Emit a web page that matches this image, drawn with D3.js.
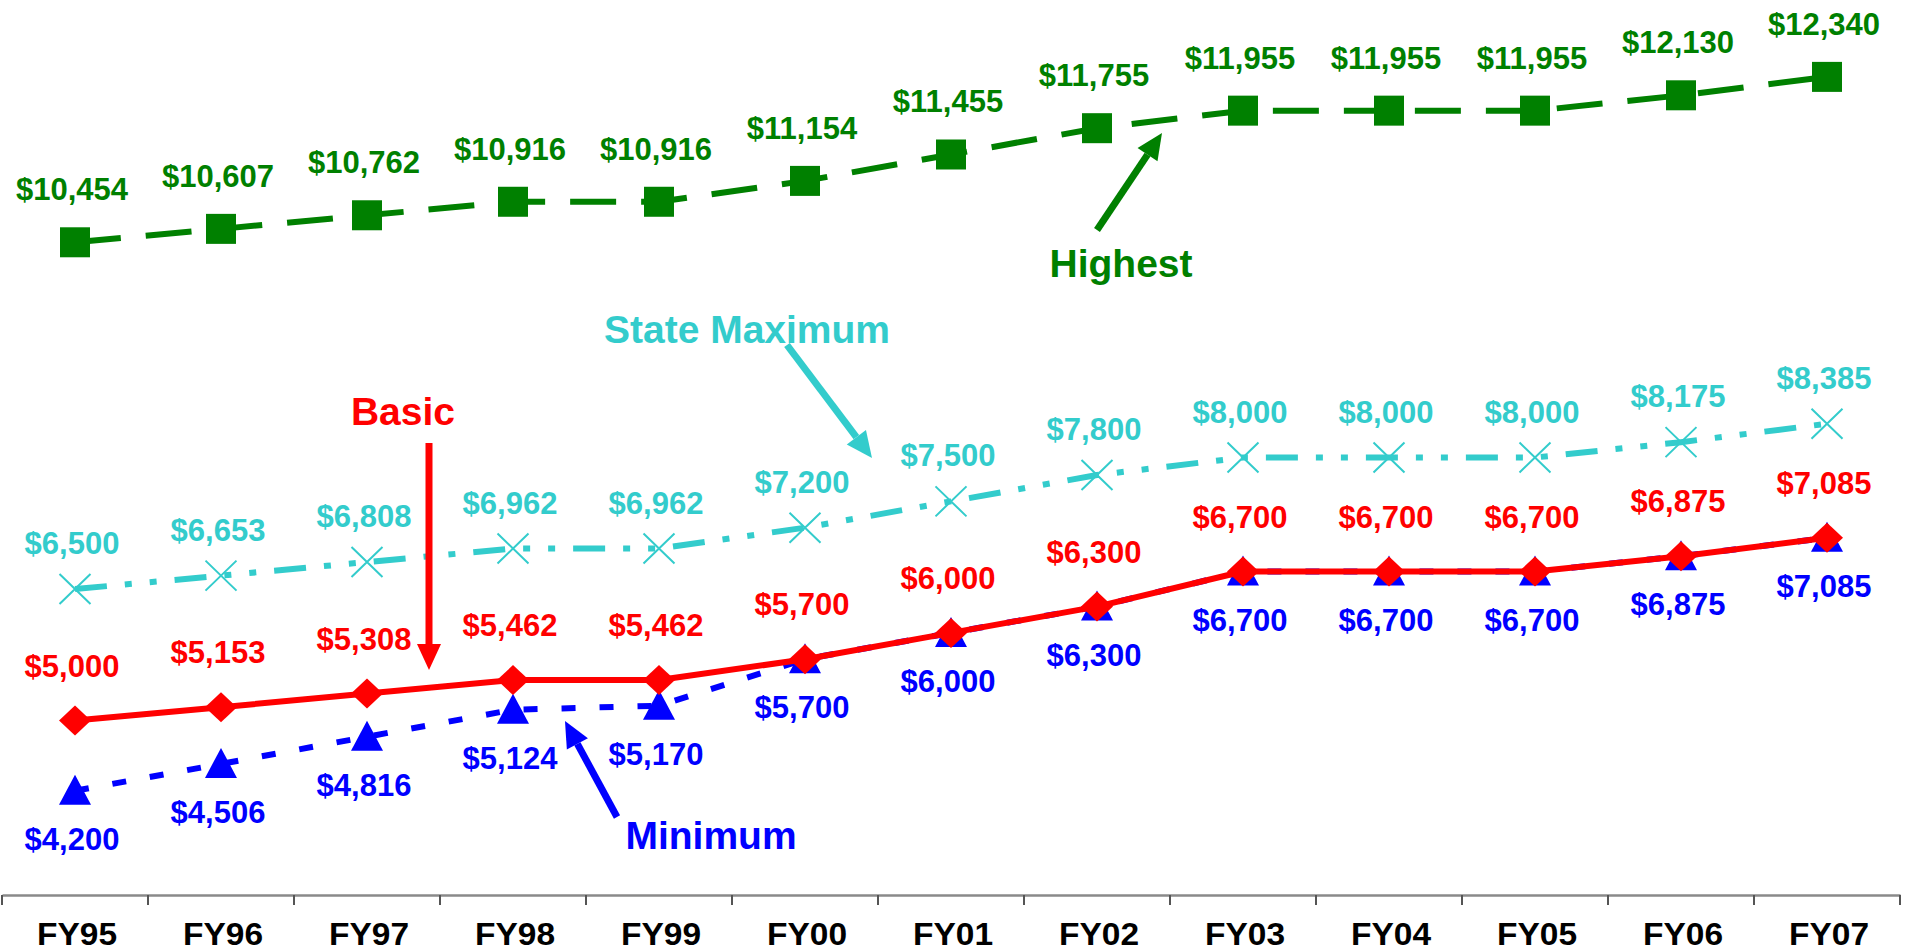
<!DOCTYPE html>
<html>
<head>
<meta charset="utf-8">
<script src="https://cdn.jsdelivr.net/npm/d3@7"></script>
<style>
  html, body { margin: 0; padding: 0; background: #fff; }
  svg { display: block; }
  text { font-family: "Liberation Sans", Arial, sans-serif; font-weight: bold; }
</style>
</head>
<body>
<svg id="chart" width="1906" height="952"></svg>
<script>
const categories = ["FY95","FY96","FY97","FY98","FY99","FY00","FY01","FY02","FY03","FY04","FY05","FY06","FY07"];
const highest  = [10454,10607,10762,10916,10916,11154,11455,11755,11955,11955,11955,12130,12340];
const stateMax = [6500,6653,6808,6962,6962,7200,7500,7800,8000,8000,8000,8175,8385];
const basic    = [5000,5153,5308,5462,5462,5700,6000,6300,6700,6700,6700,6875,7085];
const minimum  = [4200,4506,4816,5124,5170,5700,6000,6300,6700,6700,6700,6875,7085];

const annotations = [
  {text: "Highest", color: "#008000", tx: 1121, ty: 277, from: [1097,230], to: [1162,133]},
  {text: "State Maximum", color: "#33CCCC", tx: 747, ty: 343, from: [787,345], to: [872,458]},
  {text: "Basic", color: "#FF0000", tx: 403, ty: 425, from: [429,443], to: [429,670]},
  {text: "Minimum", color: "#0000FF", tx: 711, ty: 849, from: [617,817], to: [565,721]}
];

const svg = d3.select("#chart");
const x = d3.scaleBand().domain(categories).range([2, 1900]).paddingInner(0).paddingOuter(0);
const cx = c => x(c) + x.bandwidth() / 2;
const y = d3.scaleLinear().domain([3000, 13000]).range([896, 19]);
const fmt = v => "$" + d3.format(",")(v);

// Axis
const axisY = 895;
const axisG = svg.append("g").attr("transform", `translate(0,${axisY})`)
  .call(d3.axisBottom(x).tickSize(0));
axisG.select(".domain").attr("stroke", "#8a8a8a").attr("stroke-width", 2.5);
axisG.selectAll(".tick text")
  .attr("font-family", "Liberation Sans, Arial, sans-serif")
  .attr("font-weight", "bold").attr("font-size", 31).attr("fill", "#000")
  .attr("y", 50).attr("dy", 0)
  .attr("transform", "translate(2,0) scale(1.08,1)");
const boundaries = categories.map(c => x(c)).concat([x.range()[1]]);
svg.append("g").selectAll("line").data(boundaries).join("line")
  .attr("x1", d => d).attr("x2", d => d)
  .attr("y1", axisY).attr("y2", axisY + 10)
  .attr("stroke", "#555").attr("stroke-width", 2);

function series(values, color, width, dash) {
  const pts = values.map((v, i) => [cx(categories[i]), y(v)]);
  svg.append("path").attr("d", d3.line()(pts))
    .attr("fill", "none").attr("stroke", color).attr("stroke-width", width)
    .attr("stroke-dasharray", dash).attr("stroke-linejoin", "round");
  return pts;
}

// Minimum
const minPts = series(minimum, "#0000FF", 6, "14,24");
svg.append("g").selectAll("path").data(minPts).join("path")
  .attr("d", d => `M${d[0]},${d[1]-16}L${d[0]-16},${d[1]+14}L${d[0]+16},${d[1]+14}Z`)
  .attr("fill", "#0000FF");

// Basic
const basPts = series(basic, "#FF0000", 6, null);
svg.append("g").selectAll("path").data(basPts).join("path")
  .attr("d", d => `M${d[0]},${d[1]-15}L${d[0]+16},${d[1]}L${d[0]},${d[1]+15}L${d[0]-16},${d[1]}Z`)
  .attr("fill", "#FF0000");

// State Maximum
const smPts = series(stateMax, "#33CCCC", 6, "32,18,7,18,7,18");
svg.append("g").selectAll("path").data(smPts).join("path")
  .attr("d", d => `M${d[0]-15.5},${d[1]-15}L${d[0]+15.5},${d[1]+15}M${d[0]+15.5},${d[1]-15}L${d[0]-15.5},${d[1]+15}`)
  .attr("fill", "none").attr("stroke", "#33CCCC").attr("stroke-width", 2);

// Highest
const hiPts = series(highest, "#008000", 6, "46,25");
svg.append("g").selectAll("rect").data(hiPts).join("rect")
  .attr("x", d => d[0] - 15).attr("y", d => d[1] - 15)
  .attr("width", 30).attr("height", 30).attr("fill", "#008000");

// Data labels
function labels(values, color, dy) {
  svg.append("g").selectAll("text").data(values).join("text")
    .attr("x", (v, i) => cx(categories[i]) - 3)
    .attr("y", v => y(v) + dy)
    .attr("text-anchor", "middle")
    .attr("font-size", 31).attr("fill", color)
    .text(fmt);
}
labels(highest, "#008000", -42);
labels(stateMax, "#33CCCC", -35);
labels(basic, "#FF0000", -44);
labels(minimum, "#0000FF", 59);

// Annotations with arrows
annotations.forEach(a => {
  const [x1, y1] = a.from, [x2, y2] = a.to;
  const ang = Math.atan2(y2 - y1, x2 - x1);
  const headLen = 26, headHalf = 12;
  const bx = x2 - headLen * Math.cos(ang), by = y2 - headLen * Math.sin(ang);
  svg.append("line").attr("x1", x1).attr("y1", y1).attr("x2", bx).attr("y2", by)
    .attr("stroke", a.color).attr("stroke-width", 7);
  const px = -Math.sin(ang), py = Math.cos(ang);
  svg.append("path")
    .attr("d", `M${x2},${y2}L${bx + px*headHalf},${by + py*headHalf}L${bx - px*headHalf},${by - py*headHalf}Z`)
    .attr("fill", a.color);
  svg.append("text").attr("x", a.tx).attr("y", a.ty).attr("text-anchor", "middle")
    .attr("font-size", 39).attr("fill", a.color).text(a.text);
});
</script>
</body>
</html>
